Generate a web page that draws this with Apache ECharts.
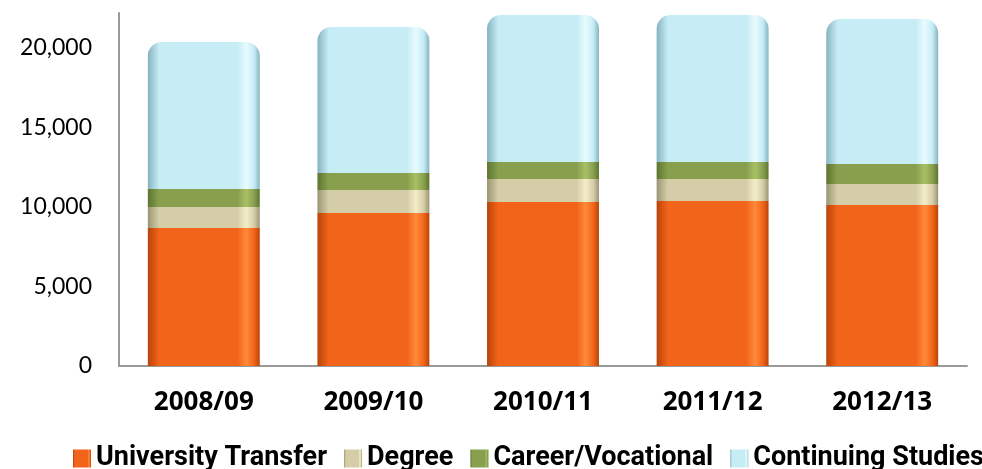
<!DOCTYPE html>
<html>
<head>
<meta charset="utf-8">
<script src="https://cdn.jsdelivr.net/npm/echarts@6/dist/echarts.min.js"></script>
<style>
  html, body { margin: 0; padding: 0; background: #fff; }
  #chart { width: 982px; height: 469px; }
</style>
</head>
<body>
<div id="chart"></div>
<script>
  var years = ['2008/09', '2009/10', '2010/11', '2011/12', '2012/13']
  var universityTransfer = [8680, 9620, 10310, 10380, 10130]
  var degree = [1320, 1450, 1450, 1380, 1320]
  var careerVocational = [1130, 1070, 1070, 1070, 1250]
  var continuingStudies = [9250, 9180, 9250, 9250, 9120]
  var seriesNames = ['University Transfer', 'Degree', 'Career/Vocational', 'Continuing Studies']

  // horizontal shading to fake the glossy cylinder look
  function gloss(dark, base, light) {
    return new echarts.graphic.LinearGradient(0, 0, 1, 0, [
      { offset: 0, color: dark },
      { offset: 0.1, color: base },
      { offset: 0.8, color: base },
      { offset: 0.88, color: light },
      { offset: 0.95, color: base },
      { offset: 1, color: dark }
    ])
  }

  var styles = [
    { color: gloss('#b84408', '#f26419', '#ff8a3a'), legend: '#d4560f' },
    { color: gloss('#9a9574', '#d5cda8', '#f3edc8'), legend: '#a9a283' },
    { color: gloss('#5d7530', '#88a04e', '#a8c064'), legend: '#6f8a3a' },
    { color: gloss('#86b3c0', '#c6ecf5', '#e8fbff'), legend: '#9fc9d6' }
  ]

  var datasets = [universityTransfer, degree, careerVocational, continuingStudies]

  var chart = echarts.init(document.getElementById('chart'))
  chart.setOption({
    animation: false,
    grid: {
      left: 119,
      right: 15,
      top: 13,
      bottom: 103
    },
    legend: {
      left: 68,
      top: 440,
      width: 1200,
      itemWidth: 18,
      itemHeight: 18,
      itemGap: 17,
      icon: 'rect',
      textStyle: {
        fontFamily: 'Liberation Sans Narrow, Roboto, sans-serif',
        fontWeight: 'bold',
        fontSize: 27,
        color: '#000'
      },
      data: seriesNames
    },
    xAxis: {
      type: 'category',
      data: years,
      axisLine: { lineStyle: { color: '#9a9a9a', width: 2 } },
      axisTick: { show: false },
      axisLabel: {
        margin: 24,
        color: '#000',
        fontFamily: 'Open Sans, Lato, sans-serif',
        fontWeight: 'bold',
        fontSize: 26
      }
    },
    yAxis: {
      type: 'value',
      min: 0,
      max: 22200,
      interval: 5000,
      axisLine: { show: true, lineStyle: { color: '#9a9a9a', width: 2 } },
      axisTick: { show: false },
      splitLine: { show: false },
      axisLabel: {
        margin: 27,
        showMaxLabel: false,
        color: '#000',
        fontFamily: 'Lato, Open Sans, sans-serif',
        fontSize: 23,
        formatter: function (v) { return v.toLocaleString('en-US') }
      }
    },
    series: seriesNames.map(function (name, i) {
      return {
        name: name,
        type: 'bar',
        stack: 'total',
        barWidth: '66%',
        data: datasets[i],
        color: styles[i].legend,
        itemStyle: {
          color: styles[i].color,
          borderRadius: i === 3 ? [14, 14, 0, 0] : 0
        }
      }
    })
  })
</script>
</body>
</html>
